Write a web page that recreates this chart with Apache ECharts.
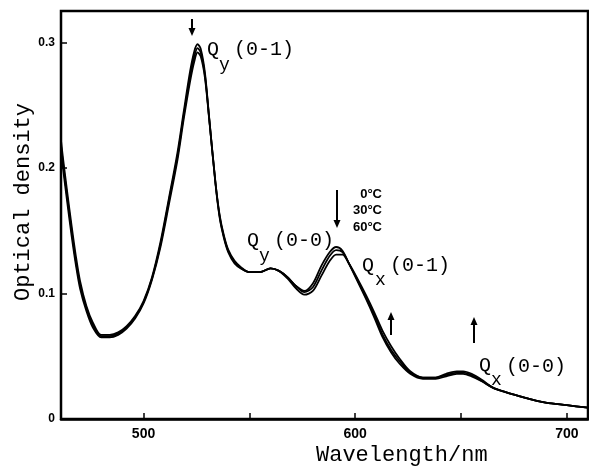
<!DOCTYPE html>
<html>
<head>
<meta charset="utf-8">
<script src="https://cdn.jsdelivr.net/npm/echarts@6.0.0/dist/echarts.min.js"></script>
<style>
html,body{margin:0;padding:0;background:#fff;}
#main{width:589px;height:468px;}
</style>
</head>
<body>
<div id="main"></div>
<script>
// wavelength (nm) and optical density for the three temperatures
var wl = [461,462,464,466,468,470,473,476,480,484,488,492,496,500,504,508,512,516,519,522,524,525.5,527,529,531,534,536,538,540,543,546,550,555,560,564,568,572,576,580,584,588,591,594,597,601,605,609,613,617,621,626,632,638,643,648,651,655,660,665,670,680,690,700,710];
var od0 = [0.222,0.207,0.180,0.154,0.130,0.110,0.090,0.077,0.067,0.067,0.069,0.074,0.082,0.094,0.113,0.141,0.176,0.212,0.245,0.277,0.293,0.2985,0.295,0.276,0.240,0.187,0.160,0.144,0.133,0.124,0.120,0.117,0.117,0.120,0.118,0.113,0.106,0.102,0.108,0.122,0.133,0.137,0.134,0.124,0.110,0.096,0.081,0.065,0.053,0.044,0.036,0.032,0.032,0.034,0.036,0.036,0.034,0.030,0.025,0.022,0.017,0.013,0.011,0.009];
var od30 = [0.218,0.203,0.176,0.150,0.126,0.107,0.088,0.075,0.066,0.066,0.068,0.073,0.081,0.093,0.112,0.139,0.174,0.209,0.242,0.273,0.289,0.2955,0.292,0.274,0.240,0.188,0.161,0.145,0.134,0.125,0.120,0.117,0.117,0.120,0.118,0.113,0.106,0.101,0.105,0.118,0.130,0.1345,0.133,0.124,0.111,0.097,0.083,0.067,0.055,0.046,0.037,0.033,0.033,0.035,0.037,0.037,0.035,0.030,0.025,0.022,0.017,0.013,0.011,0.009];
var od60 = [0.214,0.199,0.172,0.146,0.123,0.104,0.086,0.073,0.065,0.065,0.067,0.072,0.080,0.092,0.111,0.137,0.171,0.206,0.239,0.269,0.285,0.292,0.289,0.272,0.239,0.188,0.162,0.146,0.135,0.126,0.121,0.117,0.117,0.120,0.118,0.112,0.104,0.099,0.102,0.114,0.126,0.131,0.131,0.124,0.112,0.099,0.085,0.070,0.058,0.048,0.038,0.033,0.033,0.036,0.038,0.038,0.036,0.031,0.025,0.022,0.017,0.013,0.011,0.009];
var temps = ['0°C','30°C','60°C'];
var xTicks = [500,550,600,650,700];
var xLabels = [500,600,700];
var yTicks = [0.1,0.2,0.3];
var yLabels = [0,0.1,0.2,0.3];

function pairs(ys){
  var out = [];
  for (var i = 0; i < wl.length; i++) out.push([wl[i], ys[i]]);
  return out;
}

var mono = '"Liberation Mono", "DejaVu Sans Mono", monospace';
var sans = '"Liberation Sans", Arial, sans-serif';

function txt(x, y, s, size, opt){
  opt = opt || {};
  return {
    type:'text', x:x, y:y, rotation: opt.rot || 0,
    style:{text:s, fill:'#000', font:(opt.weight||'normal')+' '+size+'px '+(opt.family||mono),
      align: opt.align || 'left', verticalAlign:'middle'}
  };
}
function arrow(x, y1, y2){
  var d = y2 > y1 ? 1 : -1;
  return {
    type:'group', children:[
      {type:'line', shape:{x1:x, y1:y1, x2:x, y2:y2 - d*5}, style:{stroke:'#000', lineWidth:2}},
      {type:'polygon', shape:{points:[[x-3.5, y2 - d*8],[x+3.5, y2 - d*8],[x, y2]]}, style:{fill:'#000'}}
    ]
  };
}

var myChart = echarts.init(document.getElementById('main'));
var series = [od0, od30, od60].map(function(ys, i){
  return {
    name: temps[i], type:'line', data: pairs(ys), smooth:0.3, showSymbol:false,
    lineStyle:{color:'#000', width:1.8}
  };
});

var option = {
  animation:false,
  grid:{left:61, right:1, top:11, bottom:49, show:true, borderColor:'#000', borderWidth:2.5},
  xAxis:{
    type:'value', min:461, max:710,
    axisLine:{lineStyle:{color:'#000', width:2.5}},
    axisTick:{inside:true, length:6, customValues:xTicks, lineStyle:{color:'#000', width:1.5}},
    axisLabel:{customValues:xLabels, color:'#000', fontFamily:sans, fontWeight:'bold', fontSize:14, margin:8},
    splitLine:{show:false}
  },
  yAxis:{
    type:'value', min:0, max:0.325,
    axisLine:{show:true, lineStyle:{color:'#000', width:2}},
    axisTick:{show:true, inside:true, length:6, customValues:yTicks, lineStyle:{color:'#000', width:1.5}},
    axisLabel:{customValues:yLabels, color:'#000', fontFamily:sans, fontWeight:'bold', fontSize:12, margin:6,
      formatter:function(v){ return v === 0 ? '0' : v.toFixed(1); }},
    splitLine:{show:false}
  },
  graphic:[
    txt(316, 455, 'Wavelength/nm', 22),
    txt(23, 202, 'Optical density', 22, {rot:Math.PI/2, align:'center'}),
    // band labels
    txt(207, 50, 'Q', 20), txt(219, 65, 'y', 18), txt(234, 50, '(0-1)', 20),
    txt(247, 241, 'Q', 20), txt(259, 256, 'y', 18), txt(274, 241, '(0-0)', 20),
    txt(362, 266, 'Q', 20), txt(375, 280, 'x', 18), txt(390, 266, '(0-1)', 20),
    txt(479, 366, 'Q', 20), txt(491, 380, 'x', 18), txt(506, 367, '(0-0)', 20),
    // temperatures
    txt(382, 194, temps[0], 13, {family:sans, weight:'bold', align:'right'}),
    txt(382, 210, temps[1], 13, {family:sans, weight:'bold', align:'right'}),
    txt(382, 227, temps[2], 13, {family:sans, weight:'bold', align:'right'}),
    arrow(192, 19, 36),
    arrow(337, 190, 228),
    arrow(391, 335, 312),
    arrow(474, 343, 317)
  ],
  series: series
};
myChart.setOption(option);
</script>
</body>
</html>
